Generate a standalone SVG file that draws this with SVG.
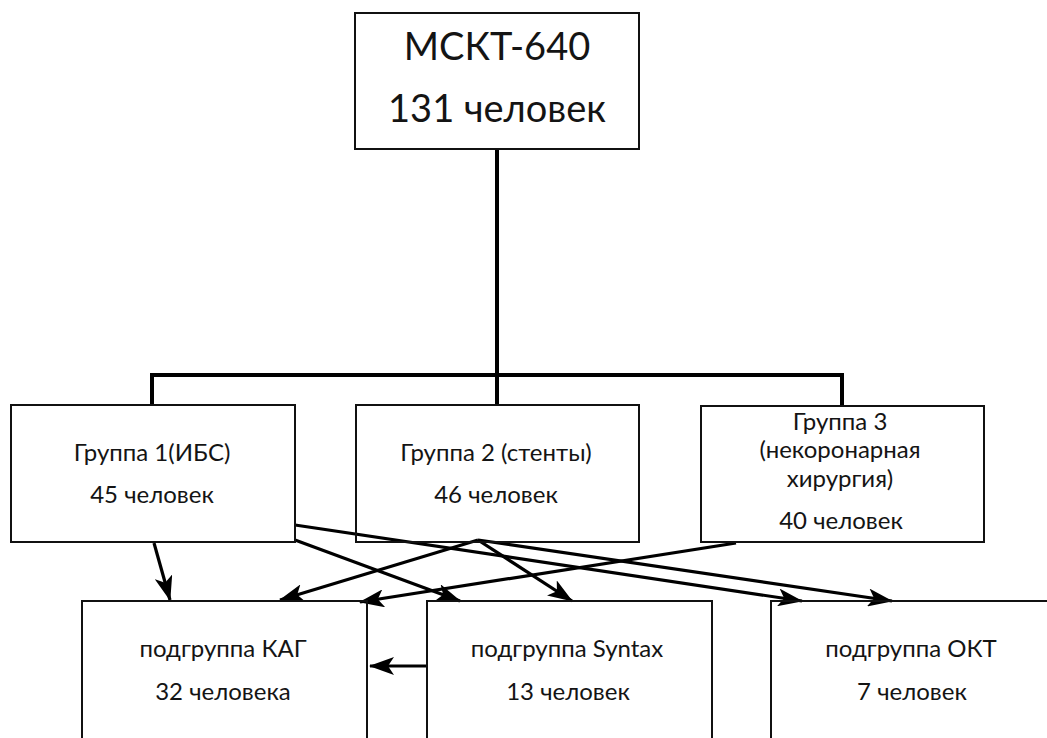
<svg xmlns="http://www.w3.org/2000/svg" width="1047" height="738" viewBox="0 0 1047 738">
<style>
.box{fill:none;stroke:#111;stroke-width:2}
.t{font-family:Lato,"Open Sans","Liberation Sans",sans-serif;fill:#141414;text-anchor:middle}
.big{font-size:38px}
.mid{font-size:24px}
.tree{fill:none;stroke:#000;stroke-width:4}
.arr{fill:none;stroke:#000;stroke-width:3.2;marker-end:url(#ah)}
</style>
<defs>
<marker id="ah" markerUnits="userSpaceOnUse" markerWidth="25" markerHeight="18" refX="24" refY="9" orient="auto" viewBox="0 0 25 18">
<path d="M0,0 L25,9 L0,18 L6,9 z" fill="#000"/>
</marker>
</defs>
<rect width="1047" height="738" fill="#fff"/>
<g id="connectors">
<path class="tree" d="M497,149 V375 M152,405 V375 H842 V406 M497,375 V405"/>
<line class="arr" x1="154" y1="543" x2="170" y2="600"/>
<line class="arr" x1="478" y1="540" x2="280" y2="600"/>
<line class="arr" x1="736" y1="543" x2="360" y2="602"/>
<line class="arr" x1="295" y1="540" x2="460" y2="601"/>
<line class="arr" x1="478" y1="540" x2="572" y2="601"/>
<line class="arr" x1="295" y1="525" x2="802" y2="601"/>
<line class="arr" x1="478" y1="540" x2="892" y2="601"/>
<line class="arr" x1="426" y1="666" x2="370" y2="666"/>
</g>
<g id="root">
<rect class="box" x="355" y="13" width="284" height="136"/>
<text class="t big" x="497" y="60">МСКТ-640</text>
<text class="t big" x="497" y="122">131 человек</text>
</g>
<g id="group1">
<rect class="box" x="11" y="405" width="284" height="137"/>
<text class="t mid" x="152" y="461">Группа 1(ИБС)</text>
<text class="t mid" x="152" y="503">45 человек</text>
</g>
<g id="group2">
<rect class="box" x="356" y="405" width="283" height="137"/>
<text class="t mid" x="496" y="461">Группа 2 (стенты)</text>
<text class="t mid" x="496" y="503">46 человек</text>
</g>
<g id="group3">
<rect class="box" x="701" y="406" width="283" height="136"/>
<text class="t mid" x="840" y="430">Группа 3</text>
<text class="t mid" x="840" y="458">(некоронарная</text>
<text class="t mid" x="840" y="487">хирургия)</text>
<text class="t mid" x="841" y="529">40 человек</text>
</g>
<g id="sub-kag">
<rect class="box" x="82" y="601" width="285" height="160"/>
<text class="t mid" x="223" y="657">подгруппа КАГ</text>
<text class="t mid" x="223" y="700">32 человека</text>
</g>
<g id="sub-syntax">
<rect class="box" x="427" y="601" width="285" height="160"/>
<text class="t mid" x="567" y="657">подгруппа Syntax</text>
<text class="t mid" x="568" y="700">13 человек</text>
</g>
<g id="sub-okt">
<rect class="box" x="771" y="601" width="300" height="160"/>
<text class="t mid" x="911" y="657">подгруппа ОКТ</text>
<text class="t mid" x="912" y="700">7 человек</text>
</g>
</svg>
